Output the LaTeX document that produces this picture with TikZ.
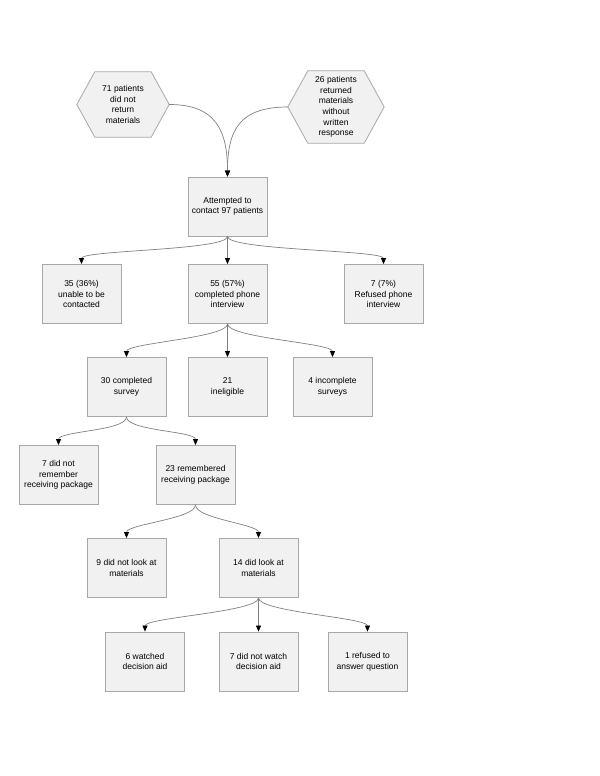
\documentclass[tikz,border=0pt]{standalone}
\usepackage{fontspec}
\setmainfont{Liberation Sans}
\usetikzlibrary{arrows.meta,backgrounds}
\definecolor{boxfill}{HTML}{F1F1F1}
\definecolor{boxline}{HTML}{A8A8A8}
\definecolor{edgeline}{HTML}{808080}
\begin{document}
\begin{tikzpicture}[x=1bp,y=-1bp,
  every node/.style={font=\fontsize{8.5bp}{10.6bp}\selectfont, align=center, inner sep=0pt},
  stepbox/.style={draw=boxline, fill=boxfill, line width=0.8bp, minimum width=79bp, minimum height=59bp},
  hexnode/.style={draw=none},
  hexshape/.style={draw=boxline, fill=boxfill, line width=0.8bp},
  conn/.style={draw=edgeline, line width=0.7bp, -{Triangle[length=6bp,width=5bp,color=black]}}
]
\useasboundingbox (0,0) rectangle (600,776);

% hexagons
\node[hexnode, minimum width=92bp, minimum height=65bp] (hL) at (123,104.5) {71 patients\\did not\\return\\materials};
\node[hexnode, minimum width=96bp, minimum height=72bp] (hR) at (336,107) {26 patients\\returned\\materials\\without\\written\\response};
\begin{scope}[on background layer]
\path[hexshape] (hL.west) -- ([xshift=18bp]hL.north west) -- ([xshift=-18bp]hL.north east) -- (hL.east) -- ([xshift=-18bp]hL.south east) -- ([xshift=18bp]hL.south west) -- cycle;
\path[hexshape] (hR.west) -- ([xshift=20bp]hR.north west) -- ([xshift=-20bp]hR.north east) -- (hR.east) -- ([xshift=-20bp]hR.south east) -- ([xshift=20bp]hR.south west) -- cycle;
\end{scope}

% boxes
\node[stepbox] (att) at (227.5,206.5) {Attempted to\\contact 97 patients};

\node[stepbox] (r2a) at (81.5,294) {35 (36\%)\\unable to be\\contacted};
\node[stepbox] (r2b) at (227.5,294) {55 (57\%)\\completed phone\\interview};
\node[stepbox] (r2c) at (383.5,294) {7 (7\%)\\Refused phone\\interview};

\node[stepbox] (r3a) at (126.5,387) {30 completed\\survey};
\node[stepbox] (r3b) at (227.5,387) {21\\ineligible};
\node[stepbox] (r3c) at (332.5,387) {4 incomplete\\surveys};

\node[stepbox] (r4a) at (58.5,475) {7 did not\\remember\\receiving package};
\node[stepbox] (r4b) at (195.5,475) {23 remembered\\receiving package};

\node[stepbox] (r5a) at (126.5,568) {9 did not look at\\materials};
\node[stepbox] (r5b) at (258.5,568) {14 did look at\\materials};

\node[stepbox] (r6a) at (145,661.5) {6 watched\\decision aid};
\node[stepbox] (r6b) at (258.5,661.5) {7 did not watch\\decision aid};
\node[stepbox] (r6c) at (367.5,661.5) {1 refused to\\answer question};

% connectors from hexagons
\draw[conn] (hL.east) .. controls ([xshift=46bp]hL.east) and ([yshift=47bp]att.north) .. (att.north);
\draw[conn] (hR.west) .. controls ([xshift=-48bp]hR.west) and ([yshift=47bp]att.north) .. (att.north);

% tree connectors
\foreach \p/\c in {att/r2a, att/r2b, att/r2c, r2b/r3a, r2b/r3b, r2b/r3c, r3a/r4a, r3a/r4b, r4b/r5a, r4b/r5b, r5b/r6a, r5b/r6b, r5b/r6c}{
  \draw[conn] (\p.south) .. controls ([yshift=-14bp]\p.south) and ([yshift=14bp]\c.north) .. (\c.north);
}
\end{tikzpicture}
\end{document}
